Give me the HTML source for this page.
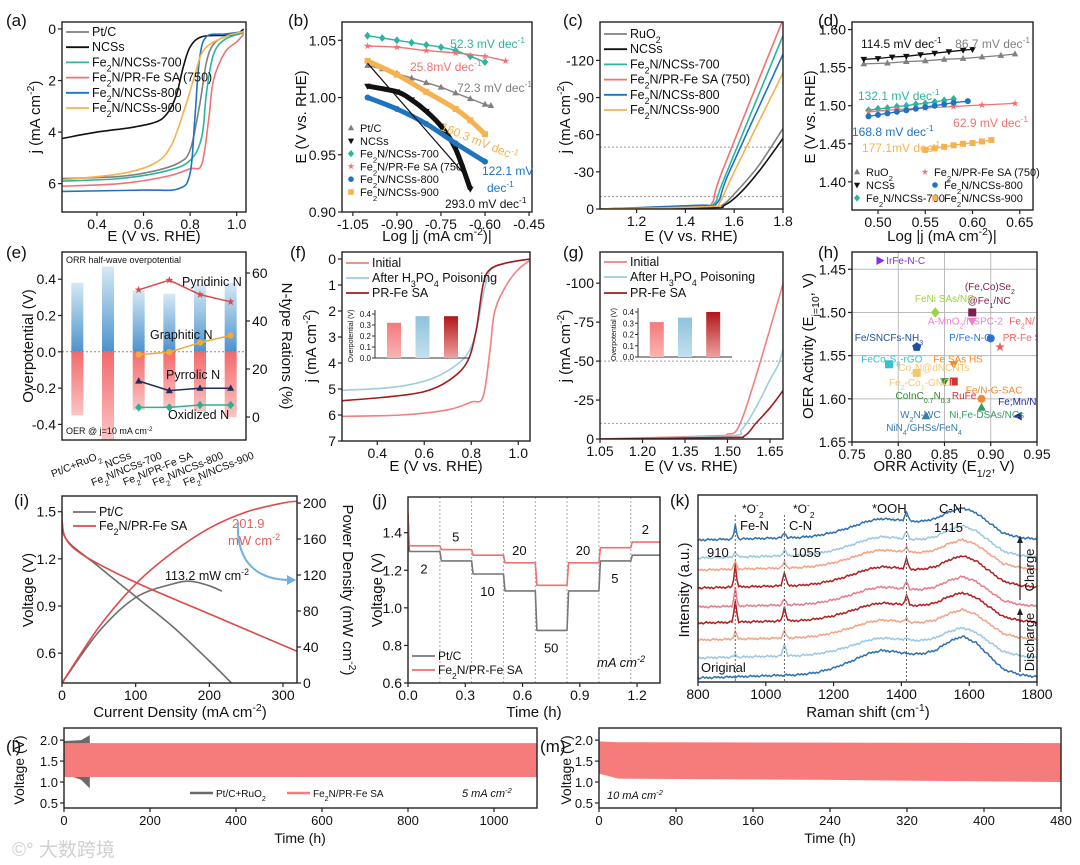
<!DOCTYPE html>
<html><head><meta charset="utf-8"><style>
html,body{margin:0;padding:0;background:#fff;}
svg{display:block;font-family:"Liberation Sans",Arial,"Noto Sans CJK SC",sans-serif;}
</style></head><body>
<svg id="fig" width="1080" height="865" viewBox="0 0 1080 865">
<defs>
<linearGradient id="gBlue" x1="0" y1="0" x2="0" y2="1"><stop offset="0" stop-color="#d6e8f6"/><stop offset="1" stop-color="#4b93cc"/></linearGradient>
<linearGradient id="gRed" x1="0" y1="0" x2="0" y2="1"><stop offset="0" stop-color="#f36a6a"/><stop offset="1" stop-color="#fbc4c4"/></linearGradient>
<linearGradient id="gIn1" x1="0" y1="0" x2="0" y2="1"><stop offset="0" stop-color="#f47a7a"/><stop offset="1" stop-color="#f9b4b4"/></linearGradient>
<linearGradient id="gIn2" x1="0" y1="0" x2="0" y2="1"><stop offset="0" stop-color="#8ec3dc"/><stop offset="1" stop-color="#c4e0ee"/></linearGradient>
<linearGradient id="gIn3" x1="0" y1="0" x2="0" y2="1"><stop offset="0" stop-color="#b01818"/><stop offset="1" stop-color="#f0a0a0"/></linearGradient>
</defs>
</svg>
<script>
// ---------- DATA ----------
const C = {pt:'#808080', ncs:'#111111', s700:'#2bb5a0', s750:'#f07272', s800:'#1f74c0', s900:'#f6b24e'};
// (a) ORR LSV  [E, j]
const aPt  = [[0.25,5.8],[0.5,5.72],[0.65,5.5],[0.75,5.2],[0.8,4.7],[0.84,3.0],[0.87,1.3],[0.9,0.6],[0.95,0.3],[1.03,0.1]];
const aNCS = [[0.25,4.25],[0.4,4.0],[0.55,3.82],[0.65,3.62],[0.7,3.3],[0.74,2.6],[0.77,1.5],[0.8,0.7],[0.85,0.3],[0.95,0.25],[1.0,0.2],[1.03,0.0]];
const a700 = [[0.25,5.9],[0.5,5.8],[0.7,5.5],[0.8,5.1],[0.85,4.2],[0.87,2.5],[0.9,1.0],[0.95,0.4],[1.03,0.15]];
const a750 = [[0.25,6.1],[0.5,6.0],[0.7,5.72],[0.8,5.42],[0.85,5.25],[0.88,3.5],[0.9,2.0],[0.95,0.9],[1.0,0.5],[1.03,0.2]];
const a800 = [[0.25,6.3],[0.6,6.25],[0.75,6.2],[0.8,5.6],[0.82,3.5],[0.84,1.2],[0.87,0.3],[0.95,0.2],[1.03,0.1]];
const a900 = [[0.25,5.85],[0.5,5.62],[0.65,5.2],[0.72,4.5],[0.78,3.0],[0.82,1.8],[0.86,0.8],[0.95,0.3],[1.03,0.1]];
// (b) ORR Tafel
const bPtX=[-1.0,-0.95,-0.9,-0.85,-0.8,-0.75,-0.7,-0.65,-0.6,-0.58], bPtY=[1.028,1.025,1.021,1.017,1.013,1.009,1.004,0.999,0.994,0.993];
const b700X=[-1.0,-0.95,-0.9,-0.85,-0.8,-0.75,-0.7,-0.65,-0.6], b700Y=[1.054,1.052,1.050,1.048,1.046,1.044,1.041,1.036,1.031];
const b750X=[-1.0,-0.9,-0.8,-0.7,-0.6,-0.53], b750Y=[1.045,1.044,1.041,1.039,1.036,1.032];
const b900X=[-1.0,-0.9,-0.8,-0.7,-0.65,-0.6], b900Y=[1.032,1.02,1.005,0.99,0.98,0.968];
const bNCSX=[-1.0,-0.9,-0.85,-0.8,-0.75,-0.7,-0.65], bNCSY=[1.01,1.005,0.998,0.988,0.975,0.955,0.92];
const b800X=[-1.0,-0.9,-0.8,-0.7,-0.6], b800Y=[1.0,0.99,0.977,0.96,0.944];
// (c) OER LSV
const cRu  = [[1.05,0],[1.5,-1],[1.55,-3],[1.6,-12],[1.7,-35],[1.8,-65]];
const cNCS = [[1.05,0],[1.5,-1],[1.56,-3],[1.62,-12],[1.7,-30],[1.8,-57]];
const c700 = [[1.05,0],[1.45,-2],[1.52,-5],[1.56,-25],[1.8,-140]];
const c750 = [[1.05,0],[1.45,-2],[1.51,-5],[1.55,-30],[1.8,-153]];
const c800 = [[1.05,0],[1.45,-3],[1.53,-5],[1.58,-30],[1.8,-125]];
const c900 = [[1.05,0],[1.5,-2],[1.54,-5],[1.6,-30],[1.8,-110]];
// (d) OER Tafel
const dRuX=[0.485,0.51,0.53,0.55,0.57,0.59,0.61,0.63,0.645], dRuY=[1.555,1.556,1.558,1.559,1.561,1.562,1.564,1.566,1.568];
const dNCSX=[0.485,0.5,0.515,0.53,0.545,0.56,0.575,0.59,0.6], dNCSY=[1.561,1.562,1.564,1.565,1.567,1.569,1.571,1.573,1.574];
const d700X=[0.49,0.5,0.51,0.52,0.53,0.54,0.55,0.56,0.57,0.58], d700Y=[1.494,1.496,1.497,1.499,1.5,1.502,1.503,1.505,1.507,1.509];
const d750X=[0.49,0.52,0.55,0.58,0.61,0.645], d750Y=[1.492,1.495,1.497,1.499,1.501,1.503];
const d800X=[0.49,0.5,0.51,0.52,0.53,0.54,0.55,0.56,0.57,0.58,0.595], d800Y=[1.486,1.488,1.49,1.492,1.494,1.496,1.498,1.5,1.502,1.504,1.506];
const d900X=[0.55,0.56,0.57,0.58,0.59,0.6,0.61,0.62], d900Y=[1.442,1.444,1.446,1.448,1.45,1.451,1.453,1.455];
// (e) bars + N types
const eCats=['Pt/C+RuO_{2}','NCSs','Fe_{2}N/NCSs-700','Fe_{2}N/PR-Fe SA','Fe_{2}N/NCSs-800','Fe_{2}N/NCSs-900'];
const eORR=[0.38,0.47,0.34,0.32,0.37,0.38];
const eOER=[-0.35,-0.49,-0.32,-0.31,-0.33,-0.36];
const ePyridinic=[53,57,51,48], eGraphitic=[26,27,31,34], ePyrrolic=[15,11,12,12], eOxidized=[4,4,5,5];
// (f) ORR poisoning
const fInit=[[0.25,6.05],[0.5,6.0],[0.7,5.8],[0.8,5.5],[0.85,5.3],[0.88,3.5],[0.9,2.0],[0.95,1.0],[1.0,0.4],[1.05,0.05]];
const fAfter=[[0.25,5.05],[0.45,4.95],[0.6,4.7],[0.7,4.3],[0.78,3.7],[0.82,2.8],[0.86,1.0],[0.9,0.3],[1.05,0]];
const fPR=[[0.25,5.45],[0.45,5.3],[0.6,5.1],[0.7,4.7],[0.78,4.0],[0.82,2.8],[0.85,1.0],[0.88,0.4],[0.95,0.15],[1.05,0]];
const fInset=[0.32,0.38,0.38];
// (g) OER poisoning
const gInit=[[1.05,0],[1.45,-2],[1.5,-3],[1.54,-8],[1.6,-40],[1.7,-102]];
const gAfter=[[1.05,0],[1.5,-2],[1.55,-6],[1.6,-20],[1.65,-38],[1.68,-48],[1.7,-60]];
const gPR=[[1.05,0],[1.5,-1],[1.56,-2],[1.6,-10],[1.65,-20],[1.7,-32]];
const gInset=[0.31,0.35,0.40];
// (h) comparison scatter
const hX=[0.78,0.88,0.84,0.88,0.91,0.90,0.82,0.79,0.82,0.86,0.85,0.86,0.89,0.89,0.93,0.83];
const hY=[1.44,1.50,1.50,1.51,1.54,1.53,1.54,1.56,1.57,1.56,1.58,1.58,1.60,1.61,1.62,1.62];
const hColor=['#8a2be2','#7a1f4e','#9bd43c','#f07ed0','#f06060','#2a72d6','#1f4f9e','#35c3c8','#f3c86a','#f08a1e','#2a8a2a','#d63030','#f08a30','#2ea060','#1e2a9a','#3a7ab0'];
const hShape=['tri-r','sq','dia','tri-d','star','circ','pent','sq','sq','tri-d','tri-d','sq','circ','tri','tri-l','tri'];
// (i) fuel cell polarization
const iVPt=[[0,1.5],[5,1.33],[50,1.15],[100,0.96],[150,0.77],[200,0.55],[230,0.41]];
const iVFe=[[0,1.45],[5,1.33],[30,1.22],[100,1.05],[200,0.85],[320,0.61]];
const iPPt=[[0,0],[50,57],[100,95],[150,110],[175,113],[200,108],[217,102]];
const iPFe=[[0,0],[50,62],[100,110],[150,145],[200,172],[250,190],[300,200],[320,202]];
// (j) rate steps
const jBounds=[0,0.167,0.333,0.5,0.667,0.833,1.0,1.167,1.32];
const jPt=[1.30,1.25,1.18,1.09,0.88,1.09,1.25,1.28];
const jFe=[1.33,1.31,1.28,1.24,1.12,1.24,1.32,1.35];
const jLabels=['2','5','10','20','50','20','5','2'];
// (k) Raman
const kBaseX=[800,900,1000,1100,1150,1200,1250,1300,1340,1380,1420,1460,1500,1540,1580,1620,1660,1700,1750,1800];
const kBaseH=[0,1,2,3,5,9,15,22,25,24,22,22,25,33,38,32,20,8,3,1];
const kPeak910=[0,3,8,22,18,22,8,6,14,12];
const kPeak1055=[0,12,7,14,6,14,6,6,5,5];
const kPeak1415=[0,3,4,10,8,10,6,8,10,12];
const kScale=[1.1,0.8,0.8,0.8,0.8,0.85,0.8,0.85,0.85,0.95];
const kColor=['#2d72b0','#9cc8e0','#f3a386','#b31e1e','#e77d8a','#b31e1e','#f3a386','#9cc8e0','#2d72b0'];
// (l),(m) cycling
const lFeTop=[[0,1.93],[1100,1.93]], lFeBot=[[0,1.12],[1100,1.12]];
const lPtTop=[[0,1.98],[40,2.0],[60,2.12]], lPtBot=[[0,1.2],[40,1.05],[60,0.85]];
const mTop=[[0,1.97],[20,1.95],[480,1.93]], mBot=[[0,1.2],[20,1.08],[240,1.05],[480,1.0]];

// ---------- HELPERS ----------
const NS='http://www.w3.org/2000/svg';
const svg=document.getElementById('fig');
function mk(tag,at,par){const e=document.createElementNS(NS,tag);for(const k in at)e.setAttribute(k,at[k]);(par||svg).appendChild(e);return e;}
function nm(e,n){
  
  
  return e;}
function fmt(s){return s.replace(/_\{([^}]*)\}/g,'<tspan baseline-shift="sub" font-size="70%">$1</tspan>').replace(/\^\{([^}]*)\}/g,'<tspan baseline-shift="super" font-size="70%">$1</tspan>');}
function T(x,y,s,o,par){o=o||{};const e=mk('text',{x:x,y:y,'font-size':o.fs||14,fill:o.c||'#111','text-anchor':o.a||'start'},par);
  if(o.rot)e.setAttribute('transform','rotate('+o.rot+' '+x+' '+y+')');if(o.it)e.setAttribute('font-style','italic');
  e.innerHTML=fmt(s);nm(e,o.n||'label');return e;}
function panel(id,b,xd,yd){const g=mk('g',{});nm(g,id+'-panel');
  const sx=v=>b[0]+(v-xd[0])/(xd[1]-xd[0])*(b[1]-b[0]);
  const sy=v=>b[3]-(v-yd[0])/(yd[1]-yd[0])*(b[3]-b[2]);
  const cp=mk('clipPath',{id:'cp'+id},g);mk('rect',{x:b[0],y:b[2],width:b[1]-b[0],height:b[3]-b[2]},cp);
  const inner=mk('g',{'clip-path':'url(#cp'+id+')'},g);nm(inner,id+'-plot-area');
  return {g:g,inner:inner,b:b,sx:sx,sy:sy};}
function frame(p){const r=mk('rect',{x:p.b[0],y:p.b[2],width:p.b[1]-p.b[0],height:p.b[3]-p.b[2],fill:'none',stroke:'#222','stroke-width':1.4},p.g);nm(r,'plot-frame');}
function xticks(p,vals,labs,fs){vals.forEach((v,i)=>{const x=p.sx(v);const t=mk('line',{x1:x,x2:x,y1:p.b[3],y2:p.b[3]+4,stroke:'#222','stroke-width':1.2},p.g);nm(t,'x-tick');
  T(x,p.b[3]+17,labs[i],{a:'middle',fs:fs||14,n:'x-tick-label'},p.g);});}
function yticks(p,vals,labs,fs,sy,right){sy=sy||p.sy;vals.forEach((v,i)=>{const y=sy(v);const x0=right?p.b[1]:p.b[0];const d=right?4:-4;
  const t=mk('line',{x1:x0,x2:x0+d,y1:y,y2:y,stroke:'#222','stroke-width':1.2},p.g);nm(t,'y-tick');
  T(right?x0+6:x0-6,y+5,labs[i],{a:right?'start':'end',fs:fs||14,n:'y-tick-label'},p.g);});}
function smoothPath(P){if(P.length<3)return 'M'+P.map(q=>q[0].toFixed(1)+','+q[1].toFixed(1)).join(' L');
  let d='M'+P[0][0].toFixed(1)+','+P[0][1].toFixed(1);
  for(let i=0;i<P.length-1;i++){const p0=P[i-1]||P[i],p1=P[i],p2=P[i+1],p3=P[i+2]||p2;
    const c1=[p1[0]+(p2[0]-p0[0])/6,p1[1]+(p2[1]-p0[1])/6],c2=[p2[0]-(p3[0]-p1[0])/6,p2[1]-(p3[1]-p1[1])/6];
    d+=' C'+c1[0].toFixed(1)+','+c1[1].toFixed(1)+' '+c2[0].toFixed(1)+','+c2[1].toFixed(1)+' '+p2[0].toFixed(1)+','+p2[1].toFixed(1);}
  return d;}
function line(p,pts,col,w,name,dash,sy,smooth){sy=sy||p.sy;const P=pts.map(q=>[p.sx(q[0]),sy(q[1])]);let e;
  if(smooth)e=mk('path',{d:smoothPath(P),fill:'none',stroke:col,'stroke-width':w||1.5,'stroke-linejoin':'round'},p.inner);
  else e=mk('polyline',{points:P.map(q=>q[0].toFixed(1)+','+q[1].toFixed(1)).join(' '),fill:'none',stroke:col,'stroke-width':w||1.5,'stroke-linejoin':'round'},p.inner);
  if(dash)e.setAttribute('stroke-dasharray',dash);nm(e,name);return e;}
function marker(par,x,y,shape,col,s,name){s=s||3.5;let e;
  if(shape==='circ')e=mk('circle',{cx:x,cy:y,r:s,fill:col},par);
  else if(shape==='sq')e=mk('rect',{x:x-s,y:y-s,width:2*s,height:2*s,fill:col},par);
  else{let pts;
    if(shape==='tri')pts=[[0,-s*1.2],[s*1.1,s*0.8],[-s*1.1,s*0.8]];
    else if(shape==='tri-d')pts=[[0,s*1.2],[s*1.1,-s*0.8],[-s*1.1,-s*0.8]];
    else if(shape==='tri-r')pts=[[s*1.2,0],[-s*0.8,s*1.1],[-s*0.8,-s*1.1]];
    else if(shape==='tri-l')pts=[[-s*1.2,0],[s*0.8,s*1.1],[s*0.8,-s*1.1]];
    else if(shape==='dia')pts=[[0,-s*1.3],[s*1.1,0],[0,s*1.3],[-s*1.1,0]];
    else if(shape==='pent')pts=[0,1,2,3,4].map(k=>[s*1.2*Math.sin(k*1.2566),-s*1.2*Math.cos(k*1.2566)]);
    else pts=[0,1,2,3,4,5,6,7,8,9].map(k=>{const r=k%2?s*0.5:s*1.3;return [r*Math.sin(k*0.6283),-r*Math.cos(k*0.6283)];});
    e=mk('polygon',{points:pts.map(q=>(x+q[0]).toFixed(1)+','+(y+q[1]).toFixed(1)).join(' '),fill:col},par);}
  nm(e,name||'marker');return e;}
function legLine(par,x,y,col,label,fs,w){const l=mk('line',{x1:x,x2:x+23,y1:y-4,y2:y-4,stroke:col,'stroke-width':w||1.8},par);nm(l,'legend-line');T(x+26,y,label,{fs:fs||12,n:'legend-label'},par);}
function fig(x,y,s){T(x,y,s,{fs:17,n:'panel-letter'});}

// ---------- (a) ----------
(function(){const p=panel('a',[62,246,22,212],[0.25,1.04],[7.1,-0.27]);
 [[aPt,C.pt,'pt-c'],[aNCS,C.ncs,'ncss'],[a700,C.s700,'s700'],[a750,C.s750,'s750'],[a800,C.s800,'s800'],[a900,C.s900,'s900']].forEach(s=>line(p,s[0],s[1],1.6,'curve-'+s[2],null,null,true));
 frame(p);xticks(p,[0.4,0.6,0.8,1.0],['0.4','0.6','0.8','1.0']);yticks(p,[0,2,4,6],['0','2','4','6']);
 const labs=['Pt/C','NCSs','Fe_{2}N/NCSs-700','Fe_{2}N/PR-Fe SA (750)','Fe_{2}N/NCSs-800','Fe_{2}N/NCSs-900'];
 [C.pt,C.ncs,C.s700,C.s750,C.s800,C.s900].forEach((c,i)=>legLine(p.g,66,36+i*15.2,c,labs[i],12.5));
 T(154,241,'E (V vs. RHE)',{a:'middle',fs:15,n:'x-axis-title'},p.g);T(40,117,'j (mA cm^{-2})',{a:'middle',fs:15,rot:-90,n:'y-axis-title'},p.g);fig(6,26,'(a)');})();

// ---------- (b) ----------
(function(){const p=panel('b',[342,532,22,212],[-1.087,-0.44],[0.90,1.066]);
 const S=[[bPtX,bPtY,C.pt,'tri','pt-c'],[b700X,b700Y,C.s700,'dia','s700'],[b750X,b750Y,C.s750,'star','s750'],[b900X,b900Y,C.s900,'sq','s900'],[bNCSX,bNCSY,C.ncs,'tri-d','ncss'],[b800X,b800Y,C.s800,'circ','s800']];
 S.forEach(s=>{const pts=s[0].map((x,i)=>[x,s[1][i]]);line(p,pts,s[2],(s[3]==='sq'||s[3]==='circ'||s[3]==='tri-d')?5:1.4,'tafel-'+s[4],null,null,true);s[0].forEach((x,i)=>marker(p.inner,p.sx(x),p.sy(s[1][i]),s[3],s[2],3,'point-'+s[4]));});
 line(p,[[-1.0,1.03],[-0.66,0.93]],C.ncs,1.2,'fit-ncss');
 frame(p);xticks(p,[-1.05,-0.9,-0.75,-0.6,-0.45],['-1.05','-0.90','-0.75','-0.60','-0.45']);yticks(p,[0.90,0.95,1.00,1.05],['0.90','0.95','1.00','1.05']);
 const labs=['Pt/C','NCSs','Fe_{2}N/NCSs-700','Fe_{2}N/PR-Fe SA (750)','Fe_{2}N/NCSs-800','Fe_{2}N/NCSs-900'];
 const sh=['tri','tri-d','dia','star','circ','sq'],cl=[C.pt,C.ncs,C.s700,C.s750,C.s800,C.s900];
 labs.forEach((l,i)=>{marker(p.g,351,128+i*12.8,sh[i],cl[i],2.8,'legend-marker');T(360,132+i*12.8,l,{fs:11,n:'legend-label'},p.g);});
 T(525,48,'52.3 mV dec^{-1}',{a:'end',fs:12,c:C.s700},p.g);T(410,71,'25.8mV dec^{-1}',{fs:12,c:C.s750},p.g);
 T(532,92,'72.3 mV dec^{-1}',{a:'end',fs:12,c:C.pt},p.g);T(440,130,'160.3 mV dec^{-1}',{fs:12,c:C.s900,rot:22},p.g);
 T(482,175,'122.1 mV',{fs:12,c:C.s800},p.g);T(487,192,'dec^{-1}',{fs:12,c:C.s800},p.g);T(445,208,'293.0 mV dec^{-1}',{fs:12,c:C.ncs},p.g);
 T(437,241,'Log |j (mA cm^{-2})|',{a:'middle',fs:15,n:'x-axis-title'},p.g);T(306,117,'E (V vs. RHE)',{a:'middle',fs:15,rot:-90,n:'y-axis-title'},p.g);fig(288,26,'(b)');})();

// ---------- (c) ----------
(function(){const p=panel('c',[600,783,22,209],[1.05,1.8],[0,-151]);
 [-50,-10].forEach(v=>{const l=mk('line',{x1:600,x2:783,y1:p.sy(v),y2:p.sy(v),stroke:'#999','stroke-dasharray':'2,2'},p.inner);nm(l,'reference-line');});
 [[cRu,C.pt,'ruo2'],[cNCS,C.ncs,'ncss'],[c700,C.s700,'s700'],[c750,C.s750,'s750'],[c800,C.s800,'s800'],[c900,C.s900,'s900']].forEach(s=>line(p,s[0],s[1],1.6,'curve-'+s[2],null,null,true));
 frame(p);xticks(p,[1.2,1.4,1.6,1.8],['1.2','1.4','1.6','1.8']);yticks(p,[0,-30,-60,-90,-120],['0','-30','-60','-90','-120']);
 const labs=['RuO_{2}','NCSs','Fe_{2}N/NCSs-700','Fe_{2}N/PR-Fe SA (750)','Fe_{2}N/NCSs-800','Fe_{2}N/NCSs-900'];
 [C.pt,C.ncs,C.s700,C.s750,C.s800,C.s900].forEach((c,i)=>legLine(p.g,604,38+i*15.2,c,labs[i],12.5));
 T(691,241,'E (V vs. RHE)',{a:'middle',fs:15,n:'x-axis-title'},p.g);T(570,117,'j (mA cm^{-2})',{a:'middle',fs:15,rot:-90,n:'y-axis-title'},p.g);fig(563,26,'(c)');})();

// ---------- (d) ----------
(function(){const p=panel('d',[852,1033,22,210],[0.4725,0.664],[1.363,1.61]);
 const S=[[dRuX,dRuY,C.pt,'tri','ruo2'],[dNCSX,dNCSY,C.ncs,'tri-d','ncss'],[d700X,d700Y,C.s700,'dia','s700'],[d750X,d750Y,C.s750,'star','s750'],[d800X,d800Y,C.s800,'circ','s800'],[d900X,d900Y,C.s900,'sq','s900']];
 S.forEach(s=>{const pts=s[0].map((x,i)=>[x,s[1][i]]);line(p,pts,s[2],1.3,'tafel-'+s[4]);s[0].forEach((x,i)=>marker(p.inner,p.sx(x),p.sy(s[1][i]),s[3],s[2],3,'point-'+s[4]));});
 frame(p);xticks(p,[0.5,0.55,0.6,0.65],['0.50','0.55','0.60','0.65']);yticks(p,[1.40,1.45,1.50,1.55,1.60],['1.40','1.45','1.50','1.55','1.60']);
 T(861,48,'114.5 mV dec^{-1}',{fs:12,c:C.ncs},p.g);T(1030,48,'86.7 mV dec^{-1}',{a:'end',fs:12,c:C.pt},p.g);
 T(858,100,'132.1 mV dec^{-1}',{fs:12,c:C.s700},p.g);T(1028,127,'62.9 mV dec^{-1}',{a:'end',fs:12,c:C.s750},p.g);
 T(852,136,'168.8 mV dec^{-1}',{fs:12,c:C.s800},p.g);T(862,152,'177.1mV dec^{-1}',{fs:12,c:C.s900},p.g);
 const L=[['RuO_{2}',C.pt,'tri',857,176],['NCSs',C.ncs,'tri-d',857,189],['Fe_{2}N/NCSs-700',C.s700,'dia',857,202],['Fe_{2}N/PR-Fe SA (750)',C.s750,'star',925,176],['Fe_{2}N/NCSs-800',C.s800,'circ',935,189],['Fe_{2}N/NCSs-900',C.s900,'sq',935,202]];
 L.forEach(l=>{marker(p.g,l[3],l[4]-4,l[2],l[1],2.8,'legend-marker');T(l[3]+9,l[4],l[0],{fs:11,n:'legend-label'},p.g);});
 T(942,241,'Log |j (mA cm^{-2})|',{a:'middle',fs:15,n:'x-axis-title'},p.g);T(815,117,'E (V vs. RHE)',{a:'middle',fs:15,rot:-90,n:'y-axis-title'},p.g);fig(818,26,'(d)');})();

// ---------- (e) ----------
(function(){const p=panel('e',[62,246,252,440],[0,6],[-0.486,0.55]);
 const sy2=v=>417-(v/60)*144;
 eCats.forEach((c,i)=>{const cx=p.sx(i+0.5),w=12;
   const r1=mk('rect',{x:cx-w/2,y:p.sy(eORR[i]),width:w,height:p.sy(0)-p.sy(eORR[i]),fill:'url(#gBlue)'},p.inner);nm(r1,'bar-orr-'+i);
   const r2=mk('rect',{x:cx-w/2,y:p.sy(0),width:w,height:p.sy(eOER[i])-p.sy(0),fill:'url(#gRed)'},p.inner);nm(r2,'bar-oer-'+i);
   T(cx+24,458,c,{a:'end',fs:10.5,rot:-22,n:'category-label'},p.g);});
 const z=mk('line',{x1:62,x2:246,y1:p.sy(0),y2:p.sy(0),stroke:'#888','stroke-dasharray':'2,2'},p.inner);nm(z,'zero-line');
 const NS4=[[ePyridinic,'#d94848','star'],[eGraphitic,'#f2a93b','circ'],[ePyrrolic,'#1f2f5a','tri'],[eOxidized,'#2fb092','dia']];
 NS4.forEach((s,k)=>{const pts=s[0].map((v,i)=>[i+2.5,v]);line(p,pts,s[1],1.5,'n-type-line-'+k,null,sy2);s[0].forEach((v,i)=>marker(p.inner,p.sx(i+2.5),sy2(v),s[2],s[1],3.2,'n-type-point'));});
 frame(p);yticks(p,[-0.4,-0.2,0,0.2,0.4],['-0.4','-0.2','0.0','0.2','0.4']);yticks(p,[0,20,40,60],['0','20','40','60'],14,sy2,true);
 T(66,263,'ORR half-wave overpotential',{fs:9},p.g);T(66,434,'OER @ j=10 mA cm^{-2}',{fs:9},p.g);
 T(182,286,'Pyridinic N',{fs:12.5},p.g);T(150,339,'Graphitic N',{fs:12.5},p.g);T(166,379,'Pyrrolic N',{fs:12.5},p.g);T(168,419,'Oxidized N',{fs:12.5},p.g);
 T(33,346,'Overpotential (V)',{a:'middle',fs:15,rot:-90,n:'y-axis-title'},p.g);T(282,346,'N-type Rations (%)',{a:'middle',fs:15,rot:90,n:'y2-axis-title'},p.g);fig(6,258,'(e)');})();

// ---------- (f) ----------
function inset(par,x0,x1,y0b,y04,vals,grads,name){const sy=v=>y0b-(v/0.4)*(y0b-y04);
 const ax=mk('polyline',{points:x0+','+(y04-4)+' '+x0+','+y0b+' '+x1+','+y0b,fill:'none',stroke:'#333','stroke-width':1},par);nm(ax,name+'-axes');
 [0,0.1,0.2,0.3,0.4].forEach(v=>{const t=mk('line',{x1:x0-3,x2:x0,y1:sy(v),y2:sy(v),stroke:'#333'},par);nm(t,'inset-tick');T(x0-4,sy(v)+3,v.toFixed(1),{a:'end',fs:8,n:'inset-tick-label'},par);});
 vals.forEach((v,i)=>{const cx=x0+(x1-x0)*(0.2+0.3*i);const r=mk('rect',{x:cx-7,y:sy(v),width:14,height:y0b-sy(v),fill:grads[i]},par);nm(r,name+'-bar-'+i);});
 T(x0-22,(y0b+y04)/2,'Overpotential (V)',{a:'middle',fs:7,rot:-90,n:'inset-y-title'},par);}
(function(){const p=panel('f',[342,530,252,441],[0.25,1.05],[7,-0.27]);
 line(p,fInit,'#f08080',1.6,'curve-initial',null,null,true);line(p,fAfter,'#9ccde0',1.6,'curve-after-poisoning',null,null,true);line(p,fPR,'#a01c1c',1.6,'curve-pr-fe-sa',null,null,true);
 frame(p);xticks(p,[0.4,0.6,0.8,1.0],['0.4','0.6','0.8','1.0']);yticks(p,[0,1,2,3,4,5,6,7],['0','1','2','3','4','5','6','7']);
 legLine(p.g,346,267,'#f08080','Initial',12.5);legLine(p.g,346,282,'#9ccde0','After H_{3}PO_{4} Poisoning',12.5);legLine(p.g,346,297,'#a01c1c','PR-Fe SA',12.5);
 inset(p.g,375,470,358,314,fInset,['url(#gIn1)','url(#gIn2)','url(#gIn3)'],'f-inset');
 T(436,471,'E (V vs. RHE)',{a:'middle',fs:15,n:'x-axis-title'},p.g);T(316,346,'j (mA cm^{-2})',{a:'middle',fs:15,rot:-90,n:'y-axis-title'},p.g);fig(290,258,'(f)');})();

// ---------- (g) ----------
(function(){const p=panel('g',[600,783,252,439],[1.05,1.696],[0,-120]);
 [-50,-10].forEach(v=>{const l=mk('line',{x1:600,x2:783,y1:p.sy(v),y2:p.sy(v),stroke:'#999','stroke-dasharray':'2,2'},p.inner);nm(l,'reference-line');});
 line(p,gInit,'#f08080',1.6,'curve-initial',null,null,true);line(p,gAfter,'#9ccde0',1.6,'curve-after-poisoning',null,null,true);line(p,gPR,'#a01c1c',1.6,'curve-pr-fe-sa',null,null,true);
 frame(p);xticks(p,[1.05,1.2,1.35,1.5,1.65],['1.05','1.20','1.35','1.50','1.65']);yticks(p,[0,-25,-50,-75,-100],['0','-25','-50','-75','-100']);
 legLine(p.g,604,266,'#f08080','Initial',12.5);legLine(p.g,604,281,'#9ccde0','After H_{3}PO_{4} Poisoning',12.5);legLine(p.g,604,297,'#a01c1c','PR-Fe SA',12.5);
 inset(p.g,638,732,357,312,gInset,['url(#gIn1)','url(#gIn2)','url(#gIn3)'],'g-inset');
 T(691,471,'E (V vs. RHE)',{a:'middle',fs:15,n:'x-axis-title'},p.g);T(570,346,'j (mA cm^{-2})',{a:'middle',fs:15,rot:-90,n:'y-axis-title'},p.g);fig(563,258,'(g)');})();

// ---------- (h) ----------
(function(){const p=panel('h',[852,1037,252,442],[0.75,0.95],[1.65,1.43]);
 [0.8,0.85,0.9].forEach(v=>{const l=mk('line',{x1:p.sx(v),x2:p.sx(v),y1:252,y2:442,stroke:'#bbb'},p.inner);nm(l,'grid-line');});
 [1.45,1.5,1.55,1.6].forEach(v=>{const l=mk('line',{x1:852,x2:1037,y1:p.sy(v),y2:p.sy(v),stroke:'#bbb'},p.inner);nm(l,'grid-line');});
 hX.forEach((x,i)=>marker(p.inner,p.sx(x),p.sy(hY[i]),hShape[i],hColor[i],4,'catalyst-point'));
 const L=[[0.787,1.444,'IrFe-N-C',0],[0.872,1.474,'(Fe,Co)Se_{2}',1],[0.875,1.490,'@Fe_{1}/NC',1],[0.818,1.488,'FeNi SAs/NC',2],[0.832,1.514,'A-MnO_{2}/NSPC-2',3],[0.92,1.514,'Fe_{2}N/',4],[0.913,1.533,'PR-Fe SA',4],[0.855,1.533,'P/Fe-N-C',5],[0.753,1.533,'Fe/SNCFs-NH_{3}',6],[0.76,1.558,'FeCo_{9}S_{8}-rGO',7],[0.8,1.568,'Co_{4}N@dNCNTs',8],[0.838,1.558,'Fe SAs HS',9],[0.79,1.585,'Fe_{2}-Co_{1}-GNCL',8],[0.797,1.6,'CoInC_{0.7}N_{0.3}',10],[0.858,1.6,'RuFe',11],[0.873,1.594,'Fe/N-G-SAC',12],[0.855,1.622,'Ni,Fe-DSAs/NCs',13],[0.908,1.607,'Fe;Mn/NC',14],[0.802,1.622,'W_{2}N-WC',15],[0.787,1.637,'NiN_{4}/GHSs/FeN_{4}',15]];
 L.forEach(l=>T(p.sx(l[0]),p.sy(l[1]),l[2],{fs:10,c:hColor[l[3]],n:'catalyst-label'},p.inner));
 frame(p);xticks(p,[0.75,0.8,0.85,0.9,0.95],['0.75','0.80','0.85','0.90','0.95']);yticks(p,[1.45,1.5,1.55,1.6,1.65],['1.45','1.50','1.55','1.60','1.65']);
 T(944,471,'ORR Activity (E_{1/2}, V)',{a:'middle',fs:15,n:'x-axis-title'},p.g);T(813,346,'OER Activity (E_{j=10}, V)',{a:'middle',fs:15,rot:-90,n:'y-axis-title'},p.g);fig(818,258,'(h)');})();

// ---------- (i) ----------
(function(){const p=panel('i',[62,297,496,683],[0,319],[0.41,1.6]);const sy2=v=>683-(v/207.8)*187;
 line(p,iVPt,'#6e6e6e',1.6,'voltage-pt-c',null,null,true);line(p,iVFe,'#e04848',1.6,'voltage-fe2n',null,null,true);line(p,iPPt,'#6e6e6e',1.6,'power-pt-c',null,sy2,true);line(p,iPFe,'#e04848',1.6,'power-fe2n',null,sy2,true);
 frame(p);xticks(p,[0,100,200,300],['0','100','200','300']);yticks(p,[0.6,0.9,1.2,1.5],['0.6','0.9','1.2','1.5']);yticks(p,[0,40,80,120,160,200],['0','40','80','120','160','200'],14,sy2,true);
 legLine(p.g,73,516,'#6e6e6e','Pt/C',12.5);legLine(p.g,73,530,'#e04848','Fe_{2}N/PR-Fe SA',12.5);
 T(232,528,'201.9',{fs:13,c:'#e86060'},p.g);T(228,545,'mW cm^{-2}',{fs:13,c:'#e86060'},p.g);T(165,580,'113.2 mW cm^{-2}',{fs:12.5},p.g);
 const ar=mk('path',{d:'M238,522 C236,560 255,580 290,580',fill:'none',stroke:'#6fb0dc','stroke-width':2},p.g);nm(ar,'annotation-arrow');
 const ah=mk('polygon',{points:'296,580 287,575 287,585',fill:'#6fb0dc'},p.g);nm(ah,'arrow-head');
 T(180,717,'Current Density (mA cm^{-2})',{a:'middle',fs:15,n:'x-axis-title'},p.g);T(33,590,'Voltage (V)',{a:'middle',fs:15,rot:-90,n:'y-axis-title'},p.g);
 T(343,590,'Power Density (mW cm^{-2})',{a:'middle',fs:15,rot:90,n:'y2-axis-title'},p.g);fig(14,506,'(i)');})();

// ---------- (j) ----------
(function(){const p=panel('j',[408,660,497,683],[0,1.32],[0.6,1.59]);
 jBounds.slice(1,-1).forEach(t=>{const l=mk('line',{x1:p.sx(t),x2:p.sx(t),y1:497,y2:683,stroke:'#aaa','stroke-dasharray':'2,2'},p.inner);nm(l,'step-divider');});
 function steps(vals){const pts=[[0,1.5],[0.005,vals[0]+0.03]];vals.forEach((v,i)=>{pts.push([jBounds[i]+0.008,v]);pts.push([jBounds[i+1],v]);});return pts;}
 line(p,steps(jPt),'#777',1.6,'pt-c-steps');line(p,steps(jFe),'#f07070',1.6,'fe2n-steps');
 jLabels.forEach((s,i)=>{const up=i%2===1;const tx=p.sx((jBounds[i]+jBounds[i+1])/2);
   const ty=up?p.sy(jFe[i])-8:p.sy(jPt[i])+22;T(tx,ty,s,{a:'middle',fs:13,n:'current-label'},p.g);});
 frame(p);xticks(p,[0,0.3,0.6,0.9,1.2],['0.0','0.3','0.6','0.9','1.2']);yticks(p,[0.6,0.8,1.0,1.2,1.4],['0.6','0.8','1.0','1.2','1.4']);
 legLine(p.g,412,660,'#777','Pt/C',12);legLine(p.g,412,674,'#f07070','Fe_{2}N/PR-Fe SA',12);T(597,667,'mA cm^{-2}',{fs:13,it:true},p.g);
 T(534,717,'Time (h)',{a:'middle',fs:15,n:'x-axis-title'},p.g);T(382,590,'Voltage (V)',{a:'middle',fs:15,rot:-90,n:'y-axis-title'},p.g);fig(372,506,'(j)');})();

// ---------- (k) ----------
(function(){const p=panel('k',[698,1037,495,682],[800,1800],[0,1]);
 const bases=[678,658,640,623,607,588,570,558,540];
 kColor.forEach((col,s)=>{const pts=[];for(let x=800;x<=1800;x+=5){let j=0;while(j<kBaseX.length-2&&kBaseX[j+1]<x)j++;const f=(x-kBaseX[j])/(kBaseX[j+1]-kBaseX[j]);let h=(kBaseH[j]+(kBaseH[j+1]-kBaseH[j])*f)*kScale[s];
   h+=kPeak910[s]*Math.exp(-Math.pow((x-910)/5,2))+kPeak1055[s]*Math.exp(-Math.pow((x-1055)/6,2))+kPeak1415[s]*Math.exp(-Math.pow((x-1415)/6,2));
   h+=((x*7919+s*131)%7)/3-1;pts.push(p.sx(x).toFixed(1)+','+(bases[s]-h).toFixed(1));}
   const e=mk('polyline',{points:pts.join(' '),fill:'none',stroke:col,'stroke-width':1.5},p.inner);nm(e,'raman-spectrum-'+s);});
 [910,1055,1415].forEach(v=>{const l=mk('line',{x1:p.sx(v),x2:p.sx(v),y1:515,y2:682,stroke:'#666','stroke-dasharray':'2,2'},p.inner);nm(l,'peak-marker');});
 frame(p);xticks(p,[800,1000,1200,1400,1600,1800],['800','1000','1200','1400','1600','1800']);
 T(742,513,'*O^{-}_{2}',{fs:12},p.g);T(740,530,'Fe-N',{fs:13},p.g);T(793,513,'*O^{-}_{2}',{fs:12},p.g);T(789,530,'C-N',{fs:13},p.g);
 T(872,513,'*OOH',{fs:13},p.g);T(939,513,'C-N',{fs:13},p.g);T(934,532,'1415',{fs:13},p.g);T(707,557,'910',{fs:13},p.g);T(792,557,'1055',{fs:13},p.g);T(701,672,'Original',{fs:13},p.g);
 [[1020,600,540,'Charge'],[1020,672,612,'Discharge']].forEach(a=>{const l=mk('line',{x1:a[0],x2:a[0],y1:a[1],y2:a[2],stroke:'#222','stroke-width':1.2},p.g);nm(l,'direction-arrow');
   const h=mk('polygon',{points:a[0]+','+(a[2]-4)+' '+(a[0]-3)+','+(a[2]+3)+' '+(a[0]+3)+','+(a[2]+3),fill:'#222'},p.g);nm(h,'arrow-head');T(a[0]+14,(a[1]+a[2])/2,a[3],{a:'middle',fs:13,rot:-90,n:'direction-label'},p.g);});
 T(868,717,'Raman shift (cm^{-1})',{a:'middle',fs:15,n:'x-axis-title'},p.g);T(689,590,'Intensity (a.u.)',{a:'middle',fs:15,rot:-90,n:'y-axis-title'},p.g);fig(670,506,'(k)');})();

// ---------- (l) & (m) ----------
function band(p,top,bot,col,name){const pts=top.map(q=>p.sx(q[0])+','+p.sy(q[1])).concat(bot.slice().reverse().map(q=>p.sx(q[0])+','+p.sy(q[1])));const e=mk('polygon',{points:pts.join(' '),fill:col},p.inner);nm(e,name);}
(function(){const p=panel('l',[64,537,728,808],[0,1100],[0.38,2.29]);
 band(p,lPtTop,lPtBot,'#6a6a6a','pt-c-ruo2-band');band(p,lFeTop,lFeBot,'#f67c7c','fe2n-band');
 frame(p);xticks(p,[0,200,400,600,800,1000],['0','200','400','600','800','1000'],13);yticks(p,[0.5,1.0,1.5,2.0],['0.5','1.0','1.5','2.0'],13);
 legLine(p.g,190,797,'#6a6a6a','Pt/C+RuO_{2}',10,2.5);legLine(p.g,287,797,'#f67c7c','Fe_{2}N/PR-Fe SA',10,2.5);T(462,797,'5 mA cm^{-2}',{fs:11,it:true},p.g);
 T(300,843,'Time (h)',{a:'middle',fs:14,n:'x-axis-title'},p.g);T(24,770,'Voltage (V)',{a:'middle',fs:14,rot:-90,n:'y-axis-title'},p.g);fig(6,752,'(l)');})();
(function(){const p=panel('m',[599,1061,728,808],[0,480],[0.38,2.29]);
 band(p,mTop,mBot,'#f67c7c','fe2n-band');
 frame(p);xticks(p,[0,80,160,240,320,400,480],['0','80','160','240','320','400','480'],13);yticks(p,[0.5,1.0,1.5,2.0],['0.5','1.0','1.5','2.0'],13);
 T(607,799,'10 mA cm^{-2}',{fs:11,it:true},p.g);
 T(830,843,'Time (h)',{a:'middle',fs:14,n:'x-axis-title'},p.g);T(571,770,'Voltage (V)',{a:'middle',fs:14,rot:-90,n:'y-axis-title'},p.g);fig(540,752,'(m)');})();
T(12,856,'©° 大数跨境',{fs:19,c:'#d0d0d0',n:'watermark'});
</script>
</body></html>
